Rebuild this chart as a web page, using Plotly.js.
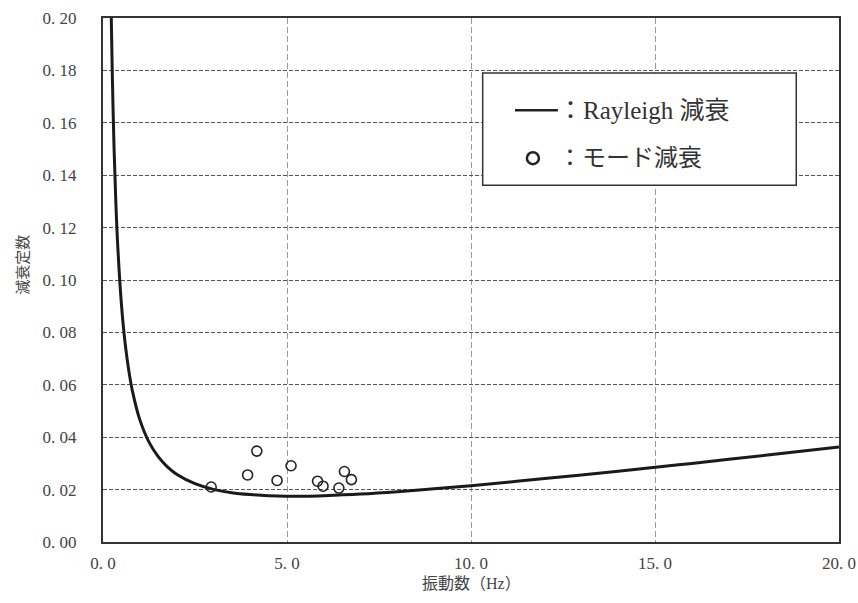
<!DOCTYPE html>
<html>
<head>
<meta charset="utf-8">
<script src="https://cdn.plot.ly/plotly-3.0.1.min.js"></script>
<style>html,body{margin:0;padding:0;background:#fff;}#chart{width:858px;height:603px;}</style>
</head>
<body>
<div id="chart"></div>
<script>
// Rayleigh damping curve
const rayFreq = [0.225,0.25,0.3,0.35,0.4,0.5,0.6,0.7,0.8,1.0,1.25,1.5,1.75,2,2.5,3,3.5,4,4.5,5,5.5,6,7,8,9,10,12,14,16,18,20];
const rayH    = [0.200,0.1804,0.1505,0.1292,0.1132,0.0909,0.0760,0.0655,0.0576,0.0467,0.0381,0.0326,0.0287,0.0259,0.0223,0.0201,0.0188,0.0181,0.0177,0.0175,0.0175,0.0177,0.0183,0.0192,0.0203,0.0215,0.0242,0.0270,0.0300,0.0331,0.0363];
// Mode damping points
const modeFreq = [2.94,3.93,4.18,4.73,5.11,5.83,5.98,6.41,6.56,6.75];
const modeH    = [0.0210,0.0256,0.0347,0.0235,0.0291,0.0232,0.0213,0.0206,0.0269,0.0238];
// Tick labels
const xTickVals = [0,5,10,15,20];
const xTickText = ["0. 0","5. 0","10. 0","15. 0","20. 0"];
const yTickVals = [0,0.02,0.04,0.06,0.08,0.10,0.12,0.14,0.16,0.18,0.20];
const yTickText = ["0. 00","0. 02","0. 04","0. 06","0. 08","0. 10","0. 12","0. 14","0. 16","0. 18","0. 20"];
const legendLabels = ["：Rayleigh 減衰","：モード減衰"];
const xTitle = "振動数（Hz）";
const yTitle = "減衰定数";

// plot area in pixels
const L = 102.5, R = 839.5, T = 17.5, B = 542.5;
const px = x => (x - L) / (R - L);
const py = y => (B - y) / (B - T);

const fontFam = '"Liberation Serif", "Noto Sans CJK JP", serif';

const traces = [
  {x: rayFreq, y: rayH, mode: 'lines', type: 'scatter', line: {color: '#1a1a1a', width: 3, shape: 'spline'}, showlegend: false, cliponaxis: true},
  {x: modeFreq, y: modeH, mode: 'markers', type: 'scatter', marker: {symbol: 'circle-open', size: 10, color: '#222', line: {width: 1.6, color: '#222'}}, showlegend: false}
];

const layout = {
  width: 858, height: 603,
  margin: {l: L, r: 858 - R, t: T, b: 603 - B, pad: 0},
  paper_bgcolor: '#fff', plot_bgcolor: '#fff',
  font: {family: fontFam, color: '#444', size: 17},
  showlegend: false,
  xaxis: {
    range: [0, 20], tickvals: xTickVals, ticktext: xTickText,
    showgrid: true, gridcolor: '#9a9a9a', griddash: '6px,3px', gridwidth: 1,
    showline: true, linecolor: '#333', linewidth: 2, mirror: true,
    ticks: '', ticklabelstandoff: 5, zeroline: false,
    tickfont: {family: fontFam, size: 17, color: '#444'}
  },
  yaxis: {
    range: [0, 0.2], tickvals: yTickVals, ticktext: yTickText,
    showgrid: true, gridcolor: '#555', griddash: '4px,2px', gridwidth: 1,
    showline: true, linecolor: '#333', linewidth: 2, mirror: true,
    ticks: '', ticklabelstandoff: 21, zeroline: false,
    tickfont: {family: fontFam, size: 17, color: '#444'}
  },
  shapes: [
    {type: 'rect', xref: 'paper', yref: 'paper', x0: px(482.7), x1: px(796.7), y0: py(185), y1: py(72.7),
     line: {color: '#333', width: 1.5}, fillcolor: '#fff', layer: 'above'},
    {type: 'line', xref: 'paper', yref: 'paper', x0: px(515), x1: px(558), y0: py(110), y1: py(110),
     line: {color: '#222', width: 2.5}, layer: 'above'},
    {type: 'circle', xref: 'paper', yref: 'paper', x0: px(527), x1: px(539), y0: py(164), y1: py(152),
     line: {color: '#222', width: 2.5}, layer: 'above'}
  ],
  annotations: [
    {xref: 'paper', yref: 'paper', x: px(556), y: py(110), xanchor: 'left', yanchor: 'middle', showarrow: false,
     text: legendLabels[0], font: {family: fontFam, size: 25, color: '#333'}},
    {xref: 'paper', yref: 'paper', x: px(556), y: py(158), xanchor: 'left', yanchor: 'middle', showarrow: false,
     text: legendLabels[1], font: {family: fontFam, size: 24, color: '#333'}},
    {xref: 'paper', yref: 'paper', x: px(471), y: py(584), xanchor: 'center', yanchor: 'middle', showarrow: false,
     text: xTitle, font: {family: fontFam, size: 16, color: '#444'}},
    {xref: 'paper', yref: 'paper', x: px(22), y: py(265), xanchor: 'center', yanchor: 'middle', showarrow: false,
     text: yTitle, textangle: -90, font: {family: fontFam, size: 15, color: '#444'}}
  ]
};

Plotly.newPlot('chart', traces, layout, {displayModeBar: false, staticPlot: true});
</script>
</body>
</html>
